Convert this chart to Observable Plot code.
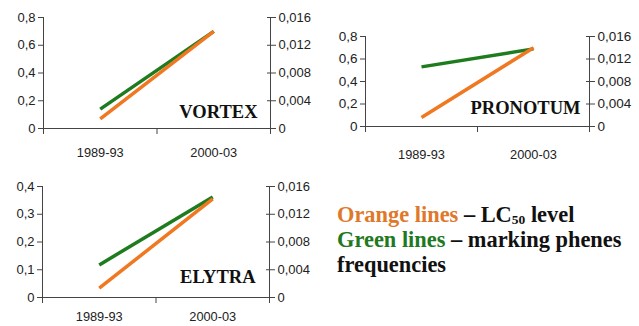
<!DOCTYPE html>
<html><head><meta charset="utf-8">
<script src="https://cdn.jsdelivr.net/npm/d3@7"></script>
<script src="https://cdn.jsdelivr.net/npm/@observablehq/plot@0.6"></script>
<style>
body{margin:0;background:#fff;}
#wrap{position:relative;width:639px;height:326px;overflow:hidden;background:#fff;}
.panel{position:absolute;}
#legend{position:absolute;left:337px;top:202px;font-family:"Liberation Serif","Times New Roman","DejaVu Serif",serif;font-weight:bold;font-size:22.4px;color:#111;white-space:nowrap;}
#legend div{height:25px;line-height:25px;}
#legend sub{font-size:13.5px;position:relative;top:2px;vertical-align:baseline;line-height:0;}
.or{color:#E0782A;} .gr{color:#1F7A1F;}
</style></head><body><div id="wrap"></div>
<script>
const categories = ["1989-93", "2000-03"];
const vortexOrange = [0.07, 0.70];
const vortexGreen = [0.0028, 0.0140];
const pronotumOrange = [0.08, 0.70];
const pronotumGreen = [0.0106, 0.0138];
const elytraOrange = [0.034, 0.355];
const elytraGreen = [0.0047, 0.0145];
const leftTicksA = [0, 0.2, 0.4, 0.6, 0.8];
const leftTicksB = [0, 0.1, 0.2, 0.3, 0.4];
const rightTicks = [0, 0.004, 0.008, 0.012, 0.016];
const panelLabels = ["VORTEX", "PRONOTUM", "ELYTRA"];

const wrap = document.getElementById("wrap");
const n = categories.length;
const fmtL = d => String(+d.toFixed(3)).replace(".", ",");
const fmtR = d => d === 0 ? "0" : d.toFixed(3).replace(".", ",");

function panel(cfg) {
  const leftMax = cfg.leftTicks[cfg.leftTicks.length - 1];
  const rightMax = rightTicks[rightTicks.length - 1];
  const k = leftMax / rightMax;
  const data = categories.map((c, i) => ({i, c, o: cfg.orange[i], g: cfg.green[i]}));
  const edges = d3.range(n + 1).map(i => i - 0.5);
  const chart = Plot.plot({
    width: cfg.width, height: cfg.height,
    marginLeft: cfg.mL, marginRight: cfg.mR, marginTop: cfg.mT, marginBottom: cfg.mB,
    style: {fontFamily: "'Liberation Sans','Arial',sans-serif", fontSize: cfg.fs + "px", color: "#222", background: "transparent"},
    x: {domain: [edges[0], edges[n]]},
    y: {domain: [0, leftMax]},
    marks: [
      Plot.axisY({anchor: "left", ticks: cfg.leftTicks, tickSize: 5, tickPadding: 3, tickFormat: fmtL, label: null, stroke: "#444"}),
      Plot.axisY({anchor: "right", ticks: rightTicks.map(v => v * k), tickSize: 5, tickPadding: 3, tickFormat: d => fmtR(d / k), label: null, stroke: "#444"}),
      Plot.axisY({anchor: "right", ticks: rightTicks.map(v => v * k), tickSize: 4, dx: -4, tickFormat: () => "", label: null, stroke: "#444"}),
      Plot.axisX({ticks: edges, tickSize: 6, tickFormat: () => "", label: null, stroke: "#444"}),
      Plot.axisX({ticks: d3.range(n), tickSize: 0, tickPadding: cfg.xPad, tickFormat: i => categories[i], label: null, fontSize: 12.8}),
      Plot.ruleY([0], {stroke: "#444"}),
      Plot.ruleX([edges[0], edges[n]], {stroke: "#444"}),
      Plot.line(data, {x: "i", y: d => d.g * k, stroke: "#1E7B1E", strokeWidth: 3.5, strokeLinecap: "butt"}),
      Plot.line(data, {x: "i", y: "o", stroke: "#F07820", strokeWidth: 3.5, strokeLinecap: "butt"}),
      Plot.text([cfg.label], {frameAnchor: "bottom-right", textAnchor: "end", lineAnchor: "middle", dx: cfg.ldx, dy: cfg.ldy,
        fontFamily: "'Liberation Serif','Times New Roman',serif", fontWeight: "bold", fontSize: 18.5, fill: "#111"})
    ]
  });
  chart.classList.add("panel");
  chart.style.left = cfg.left + "px";
  chart.style.top = cfg.top + "px";
  wrap.appendChild(chart);
}

panel({left: 0, top: 0, width: 320, height: 165, mL: 43, mR: 50, mT: 17, mB: 37, xPad: 19, fs: 13,
  leftTicks: leftTicksA, orange: vortexOrange, green: vortexGreen, label: panelLabels[0], ldx: -13, ldy: -16});
panel({left: 320, top: 0, width: 319, height: 170, mL: 45, mR: 50, mT: 36, mB: 44, xPad: 23, fs: 13.5,
  leftTicks: leftTicksA, orange: pronotumOrange, green: pronotumGreen, label: panelLabels[1], ldx: -9, ldy: -18});
panel({left: 0, top: 170, width: 320, height: 156, mL: 42, mR: 51, mT: 16, mB: 29, xPad: 14, fs: 13,
  leftTicks: leftTicksB, orange: elytraOrange, green: elytraGreen, label: panelLabels[2], ldx: -14, ldy: -20});

const legend = document.createElement("div");
legend.id = "legend";
legend.innerHTML = '<div><span class="or">Orange lines</span> – LC<sub>50</sub> level</div><div><span class="gr">Green lines</span> – marking phenes</div><div>frequencies</div>';
wrap.appendChild(legend);
</script></body></html>
